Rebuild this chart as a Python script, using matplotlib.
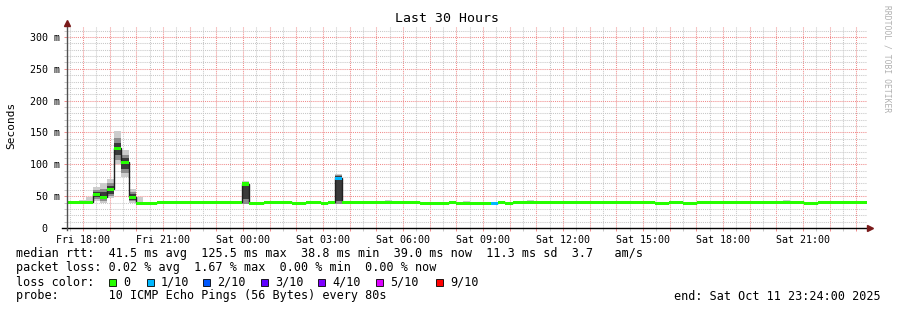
import numpy as np
import matplotlib
matplotlib.use("Agg")
import matplotlib.pyplot as plt
from matplotlib.patches import Rectangle
from matplotlib.ticker import FixedLocator, FuncFormatter, MultipleLocator

plt.rcParams["font.family"] = ["DejaVu Sans Mono"]

# time axis: hours since Fri 17:24, rrd bins of 16 minutes
START_HOUR = 17.4
SPAN_HOURS = 30
BIN_START = -0.092
BIN_HOURS = 16 / 60

# median rtt per bin (ms)
median = [
    40.3, 40.3, 40.3, 40.3, 53, 48, 61, 125, 103, 48,
    38.8, 38.8, 38.8, 40.3, 40.3, 40.3, 40.3, 40.3, 40.3, 40.3,
    40.3, 40.3, 40.3, 40.3, 40.3, 69, 38.8, 38.8, 40.3, 40.3,
    40.3, 40.3, 38.8, 38.8, 40.3, 40.3, 38.8, 40.3, 78, 40.3,
    40.3, 40.3, 40.3, 40.3, 40.3, 40.3, 40.3, 40.3, 40.3, 40.3,
    38.8, 38.8, 38.8, 38.8, 40.3, 38.8, 38.8, 38.8, 38.8, 38.8,
    38.8, 40.3, 38.8, 40.3, 40.3, 40.3, 40.3, 40.3, 40.3, 40.3,
    40.3, 40.3, 40.3, 40.3, 40.3, 40.3, 40.3, 40.3, 40.3, 40.3,
    40.3, 40.3, 40.3, 38.8, 38.8, 40.3, 40.3, 38.8, 38.8, 40.3,
    40.3, 40.3, 40.3, 40.3, 40.3, 40.3, 40.3, 40.3, 40.3, 40.3,
    40.3, 40.3, 40.3, 40.3, 38.8, 38.8, 40.3, 40.3, 40.3, 40.3,
    40.3, 40.3, 40.3, 40.3,
]

# packet loss (out of 10) where it is not zero
loss_bins = [38, 60]
loss_count = [1, 1]

# smoke: outer (light), middle and core (dark) ranges of the pings
outer_bins = [1, 2, 3, 4, 5, 6, 7, 8, 9, 10, 16, 22, 25, 38, 41, 42, 44, 45,
              48, 56, 65, 67, 69, 76, 90, 93, 101, 103]
outer_lo = [38, 38, 38, 43, 40, 47, 100, 80, 40, 38, 38, 38, 38, 38, 38, 38, 38, 38,
            38, 38, 38, 38, 38, 38, 38, 38, 38, 38]
outer_hi = [42, 44, 48, 64, 71, 77, 152, 122, 61, 49, 42, 42, 74, 85, 42, 42, 43, 44,
            43, 42, 44, 42, 42, 42, 42, 42, 44, 42]

mid_bins = [4, 5, 6, 7, 8, 9, 25, 38]
mid_lo = [46, 43, 50, 107, 86, 42, 38, 38]
mid_hi = [60, 62, 70, 142, 115, 57, 73, 83]

core_bins = [4, 5, 6, 7, 8, 9, 25, 38]
core_lo = [49, 46, 54, 114, 93, 44, 46, 42]
core_hi = [57, 56, 66, 134, 110, 53, 72, 81]

loss_colors = ["#26ff00", "#00b8ff", "#0059ff", "#5e00ff", "#7e00ff", "#dd00ff", "#ff0000"]
loss_names = ["0", "1/10", "2/10", "3/10", "4/10", "5/10", "9/10"]
loss_levels = [0, 1, 2, 3, 4, 5, 9]

stats_rtt = "median rtt:  41.5 ms avg  125.5 ms max  38.8 ms min  39.0 ms now  11.3 ms sd  3.7   am/s"
stats_loss = "packet loss: 0.02 % avg  1.67 % max  0.00 % min  0.00 % now"
probe_text = "probe:       10 ICMP Echo Pings (56 Bytes) every 80s"
end_text = "end: Sat Oct 11 23:24:00 2025"

W, H = 897, 310
fig = plt.figure(figsize=(W / 100, H / 100), dpi=100)
fig.patch.set_facecolor("white")


def fx(px):
    return px / W


def fy(py):
    return 1 - py / H


ax = fig.add_axes([fx(67), fy(228), fx(867) - fx(67), fy(27) - fy(228)])
ax.set_xlim(0, SPAN_HOURS)
ax.set_ylim(0, 315.7)

n = len(median)
edges = BIN_START + np.arange(n + 1) * BIN_HOURS
starts = edges[:-1]
med = np.array(median)


def smoke(bins, lo, hi, color):
    lo = np.array(lo, dtype=float)
    hi = np.array(hi, dtype=float)
    ax.bar(starts[bins], hi - lo, bottom=lo, width=BIN_HOURS, align="edge",
           color=color, linewidth=0, zorder=2)


smoke(outer_bins, outer_lo, outer_hi, "#cccccc")
smoke(mid_bins, mid_lo, mid_hi, "#8c8c8c")
smoke(core_bins, core_lo, core_hi, "#3a3a3a")

# median line
ax.stairs(med, edges, color="#202020", lw=1.0, baseline=None, zorder=3)

# loss-coloured median band
loss = np.zeros(n, dtype=int)
loss[loss_bins] = loss_count
band_colors = [loss_colors[loss_levels.index(v)] for v in loss]
ax.bar(starts, 5.0, bottom=med - 2.5, width=BIN_HOURS, align="edge",
       color=band_colors, linewidth=0, zorder=4)

# grid
major_x = np.arange(0.6, SPAN_HOURS, 1.0)
minor_x = np.arange(0.1, SPAN_HOURS, 1.0)
ax.xaxis.set_major_locator(FixedLocator(major_x))
ax.xaxis.set_minor_locator(FixedLocator(minor_x))
ax.yaxis.set_major_locator(MultipleLocator(50))
ax.yaxis.set_minor_locator(MultipleLocator(10))
ax.set_axisbelow(True)
ax.grid(which="minor", color="#c8c8c8", linestyle=(0, (1, 1)), lw=0.75)
ax.grid(which="major", color="#f08c8c", linestyle=(0, (1, 1)), lw=0.75)


def xfmt(t, pos):
    h = int(round(START_HOUR + t))
    if h % 3:
        return ""
    day = "Fri" if h < 24 else "Sat"
    return f"{day} {h % 24:02d}:00"


def yfmt(v, pos):
    if v == 0:
        return "0  "
    return f"{int(v)} m"


ax.xaxis.set_major_formatter(FuncFormatter(xfmt))
ax.yaxis.set_major_formatter(FuncFormatter(yfmt))
ax.tick_params(axis="both", which="both", labelsize=7.2, colors="#000000", length=2, width=0.7)
ax.tick_params(axis="x", which="major", color="#f08c8c", pad=3)
ax.tick_params(axis="x", which="minor", color="#c8c8c8")
ax.tick_params(axis="y", which="major", color="#f08c8c", pad=3)
ax.tick_params(axis="y", which="minor", color="#c8c8c8")

for s in ax.spines.values():
    s.set_visible(False)

# axis lines with arrows
ax.plot([-0.006, 1.004], [0, 0], transform=ax.transAxes, color="black", lw=1,
        clip_on=False, zorder=6)
ax.plot([0, 0], [-0.01, 1.01], transform=ax.transAxes, color="#505050", lw=1,
        clip_on=False, zorder=6)
ax.plot([1.004], [0], marker=">", ms=4, color="#7a1a1a", transform=ax.transAxes,
        clip_on=False, zorder=7)
ax.plot([0], [1.02], marker="^", ms=4, color="#7a1a1a", transform=ax.transAxes,
        clip_on=False, zorder=7)

fig.text(fx(11), fy(125), "Seconds", rotation=90, fontsize=8, ha="center", va="center")
fig.text(fx(447), fy(19), "Last 30 Hours", fontsize=9.5, ha="center", va="center")
fig.text(fx(887), fy(5), "RRDTOOL / TOBI OETIKER", fontsize=5.8, rotation=270,
         ha="center", va="top", color="#b0b0b0")

# legend block
fig.text(fx(16), fy(254), stats_rtt, fontsize=8.5, va="center", ha="left")
fig.text(fx(16), fy(268), stats_loss, fontsize=8.5, va="center", ha="left")
fig.text(fx(16), fy(282), "loss color:", fontsize=8.5, va="center", ha="left")
fig.text(fx(16), fy(296), probe_text, fontsize=8.5, va="center", ha="left")
fig.text(fx(881), fy(296), end_text, fontsize=8.5, va="center", ha="right")

box_x = [109, 147, 203, 261, 318, 376, 436]
for bx, col, name in zip(box_x, loss_colors, loss_names):
    fig.add_artist(Rectangle((fx(bx), fy(286)), 7 / W, 7 / H, transform=fig.transFigure,
                             facecolor=col, edgecolor="black", lw=0.6))
    fig.text(fx(bx + 14), fy(282), name, fontsize=8.5, va="center", ha="left")

fig.savefig("out.png", dpi=100, facecolor="white")
